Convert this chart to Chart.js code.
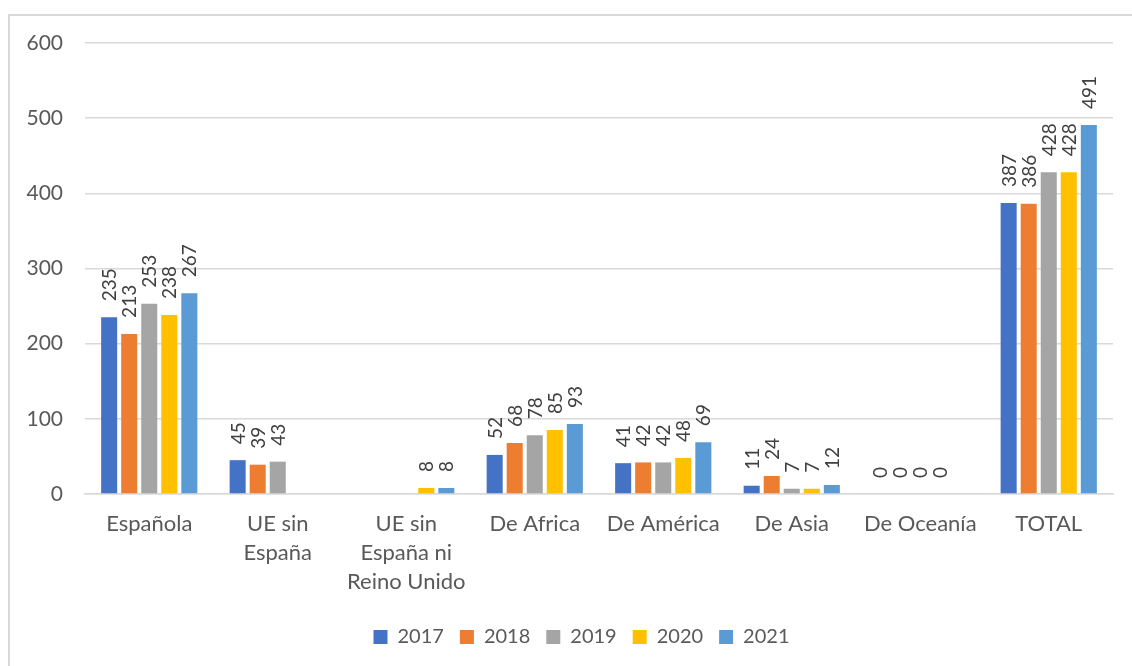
<!DOCTYPE html>
<html>
<head>
<meta charset="utf-8">
<script src="https://cdn.jsdelivr.net/npm/chart.js@4.4.0/dist/chart.umd.min.js"></script>
<style>
	html, body { margin: 0; padding: 0; background: #fff; }
	#wrap { position: relative; width: 1132px; height: 666px; overflow: hidden; }
	#frame { position: absolute; left: 8px; top: 14px; width: 1140px; height: 700px; border-left: 2px solid #d9d9d9; border-top: 2px solid #d9d9d9; }
	#chart { position: absolute; left: 0; top: 0; }
</style>
</head>
<body>
<div id="wrap">
	<div id="frame"></div>
	<canvas id="chart" width="1132" height="666"></canvas>
</div>
<script>
const categories = [
	'Española',
	['UE sin', 'España'],
	['UE sin', 'España ni', 'Reino Unido'],
	'De Africa',
	'De América',
	'De Asia',
	'De Oceanía',
	'TOTAL'
];
const years = ['2017', '2018', '2019', '2020', '2021'];
const colors = ['#4472C4', '#ED7D31', '#A5A5A5', '#FFC000', '#5B9BD5'];

const values2017 = [235, 45, null, 52, 41, 11, 0, 387];
const values2018 = [213, 39, null, 68, 42, 24, 0, 386];
const values2019 = [253, 43, null, 78, 42, 7, 0, 428];
const values2020 = [238, null, 8, 85, 48, 7, 0, 428];
const values2021 = [267, null, 8, 93, 69, 12, null, 491];

const yTicks = [0, 100, 200, 300, 400, 500, 600];

const allValues = [values2017, values2018, values2019, values2020, values2021];

document.addEventListener('DOMContentLoaded', function() {
	let canvas = document.getElementById('chart');

	// rotated value labels above each bar
	const barLabels = {
		id: 'barLabels',
		afterLayout(chart) {
			// legend sits a bit right of centre in the original
			chart.legend.left = 30;
			chart.legend.right = 1133;
		},
		afterDatasetsDraw(chart) {
			const ctx = chart.ctx;
			ctx.save();
			ctx.fillStyle = '#404040';
			ctx.font = '19px Lato';
			ctx.textAlign = 'left';
			ctx.textBaseline = 'middle';
			chart.data.datasets.forEach(function(ds, i) {
				const meta = chart.getDatasetMeta(i);
				meta.data.forEach(function(bar, j) {
					const v = ds.data[j];
					if (v === null || v === undefined) return;
					ctx.save();
					ctx.translate(bar.x, bar.y - 16);
					ctx.rotate(-Math.PI / 2);
					ctx.fillText(String(v), 0, 1);
					ctx.restore();
				});
			});
			ctx.restore();
		}
	};

	new Chart(canvas, {
		type: 'bar',
		data: {
			labels: categories,
			datasets: years.map(function(y, i) {
				return {
					label: y,
					data: allValues[i],
					backgroundColor: colors[i],
					categoryPercentage: 0.78,
					barPercentage: 0.8
				};
			})
		},
		options: {
			responsive: false,
			animation: false,
			devicePixelRatio: 1,
			layout: {
				padding: { left: 10, right: 19, top: 43, bottom: 9 }
			},
			scales: {
				x: {
					grid: { display: false, drawTicks: false },
					border: { display: true, color: '#d9d9d9', width: 1.5 },
					ticks: {
						color: '#595959',
						font: { family: 'Lato', size: 22, lineHeight: 1.32 },
						padding: 15,
						maxRotation: 0,
						autoSkip: false
					},
					afterFit: function(scale) {
						scale.height = 117;
					}
				},
				y: {
					min: 0,
					max: 600,
					afterBuildTicks: function(scale) {
						scale.ticks = yTicks.map(function(v) { return { value: v }; });
					},
					grid: { color: '#d9d9d9', lineWidth: 1.5, drawTicks: false },
					border: { display: false },
					ticks: {
						color: '#595959',
						font: { family: 'Lato', size: 21 },
						padding: 22
					},
					afterFit: function(scale) {
						scale.width = 75;
					}
				}
			},
			plugins: {
				legend: {
					position: 'bottom',
					labels: {
						color: '#595959',
						font: { family: 'Lato', size: 20 },
						boxWidth: 14,
						boxHeight: 14,
						padding: 16
					}
				},
				tooltip: { enabled: false }
			}
		},
		plugins: [barLabels]
	});
});
</script>
</body>
</html>
